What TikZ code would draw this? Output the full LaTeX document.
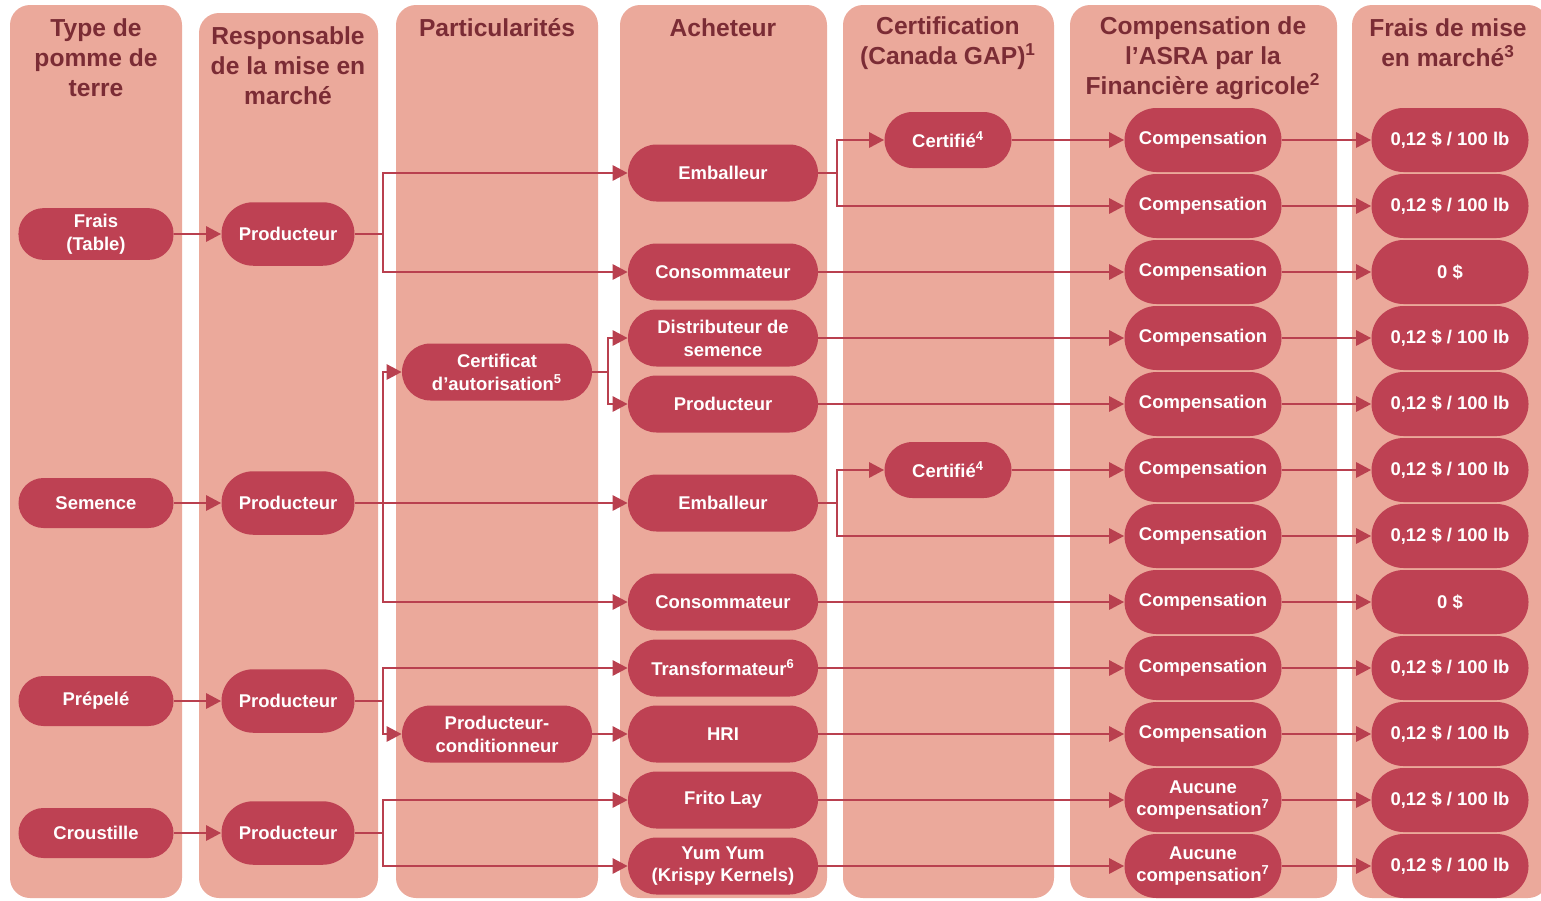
\documentclass[tikz,border=0pt]{standalone}
\usepackage{fontspec}
\setmainfont{Liberation Sans}
\usetikzlibrary{arrows.meta}
\definecolor{Lane}{HTML}{EBA99B}
\definecolor{Pill}{HTML}{BE4153}
\definecolor{Wine}{HTML}{7B2C35}
\definecolor{Line}{HTML}{B9404F}
\newcommand\prixlb{0,12 \$ / 100 lb}
\tikzset{lane/.style={fill=Lane,rounded corners=0.4cm},lanehead/.style={text=Wine,align=center,font=\fontsize{14}{17}\selectfont\bfseries},etape/.style={fill=Pill,text=white,align=center,inner xsep=2pt,font=\fontsize{10.5}{13}\selectfont\bfseries},sz/.style 2 args={minimum width=#1cm,minimum height=#2cm,rounded corners=0.5*#2cm},flow/.style={-{Triangle[length=3mm,width=3mm]},line width=1.6pt,draw=Line}}

\begin{document}
\begin{tikzpicture}[x=0.2mm,y=-0.2mm]
        \useasboundingbox (0,0) rectangle (1541,900);
        % colonnes
        \foreach \xa/\xb/\ya in {10/182/5,199/378/13,396/598/5,620/827/5,843/1054/5,1070/1337/5,1352/1548/5}
          \fill[lane] (\xa,\ya) rectangle (\xb,898);
        \node[lanehead] (h1) at (96,58) {Type de\\pomme de\\terre};
        \node[lanehead] (h2) at (288,66) {Responsable\\de la mise en\\marché};
        \node[lanehead] (h3) at (497,28) {Particularités};
        \node[lanehead] (h4) at (723,28) {Acheteur};
        \node[lanehead] (h5) at (948,43) {Certification\\(Canada GAP)\textsuperscript{1}};
        \node[lanehead] (h6) at (1203,58) {Compensation de\\l’ASRA par la\\Financière agricole\textsuperscript{2}};
        \node[lanehead] (h7) at (1448,43) {Frais de mise\\en marché\textsuperscript{3}};
        % type et responsable
        \node[etape,sz={3.1}{1.0}] (t1) at (96,234) {Frais\\(Table)};
        \node[etape,sz={3.1}{1.0}] (t2) at (96,503) {Semence};
        \node[etape,sz={3.1}{1.0}] (t3) at (96,701) {Prépelé};
        \node[etape,sz={3.1}{1.0}] (t4) at (96,833) {Croustille};
        \foreach \i/\y in {1/234,2/503,3/701,4/833}
          \node[etape,sz={2.66}{1.27}] (r\i) at (288,\y) {Producteur};
        \node[etape,sz={3.8}{1.14}] (p1) at (497,372) {Certificat\\d’autorisation\textsuperscript{5}};
        \node[etape,sz={3.8}{1.14}] (p2) at (497,734) {Producteur-\\conditionneur};
        % acheteurs
        \node[etape,sz={3.8}{1.14}] (a1) at (723,173) {Emballeur};
        \node[etape,sz={3.8}{1.14}] (a2) at (723,272) {Consommateur};
        \node[etape,sz={3.8}{1.14}] (a3) at (723,338) {Distributeur de\\semence};
        \node[etape,sz={3.8}{1.14}] (a4) at (723,404) {Producteur};
        \node[etape,sz={3.8}{1.14}] (a5) at (723,503) {Emballeur};
        \node[etape,sz={3.8}{1.14}] (a6) at (723,602) {Consommateur};
        \node[etape,sz={3.8}{1.14}] (a7) at (723,668) {Transformateur\textsuperscript{6}};
        \node[etape,sz={3.8}{1.14}] (a8) at (723,734) {HRI};
        \node[etape,sz={3.8}{1.14}] (a9) at (723,800) {Frito Lay};
        \node[etape,sz={3.8}{1.14}] (a10) at (723,866) {Yum Yum\\(Krispy Kernels)};
        \node[etape,sz={2.54}{1.12}] (c1) at (948,140) {Certifié\textsuperscript{4}};
        \node[etape,sz={2.54}{1.12}] (c2) at (948,470) {Certifié\textsuperscript{4}};
        % compensation et frais
        \foreach \k in {0,...,9}
          \node[etape,sz={3.14}{1.28}] (m\k) at (1203,{140+66*\k}) {Compensation};
        \foreach \k in {10,11}
          \node[etape,sz={3.14}{1.28}] (m\k) at (1203,{140+66*\k}) {Aucune\\compensation\textsuperscript{7}};
        \foreach \k in {0,1,3,4,5,6,8,9,10,11}
          \node[etape,sz={3.14}{1.28}] (f\k) at (1450,{140+66*\k}) {\prixlb};
        \foreach \k in {2,7}
          \node[etape,sz={3.14}{1.28}] (f\k) at (1450,{140+66*\k}) {0 \$};
        % fleches
        \coordinate (b2) at (383,0);
        \coordinate (b3) at (608,0);
        \coordinate (b4) at (837,0);
        \foreach \i in {1,...,4}
          \draw[flow] (t\i) -- (r\i);
        \draw[flow] (r1) -- (r1 -| b2) |- (a1);
        \draw[flow] (r1 -| b2) |- (a2);
        \draw[flow] (r2) -- (a5);
        \draw[flow] (r2 -| b2) |- (p1);
        \draw[flow] (r2 -| b2) |- (a6);
        \draw[flow] (r3) -- (r3 -| b2) |- (a7);
        \draw[flow] (r3 -| b2) |- (p2);
        \draw[flow] (r4) -- (r4 -| b2) |- (a9);
        \draw[flow] (r4 -| b2) |- (a10);
        \draw[flow] (p1) -- (p1 -| b3) |- (a3);
        \draw[flow] (p1 -| b3) |- (a4);
        \draw[flow] (p2) -- (a8);
        \draw[flow] (a1) -- (a1 -| b4) |- (c1);
        \draw[flow] (a1 -| b4) |- (m1);
        \draw[flow] (a5) -- (a5 -| b4) |- (c2);
        \draw[flow] (a5 -| b4) |- (m6);
        \draw[flow] (c1) -- (m0);
        \draw[flow] (c2) -- (m5);
        \foreach \a/\m in {2/2,3/3,4/4,6/7,7/8,8/9,9/10,10/11}
          \draw[flow] (a\a) -- (m\m);
        \foreach \k in {0,...,11}
          \draw[flow] (m\k) -- (f\k);
      \end{tikzpicture}
\end{document}
